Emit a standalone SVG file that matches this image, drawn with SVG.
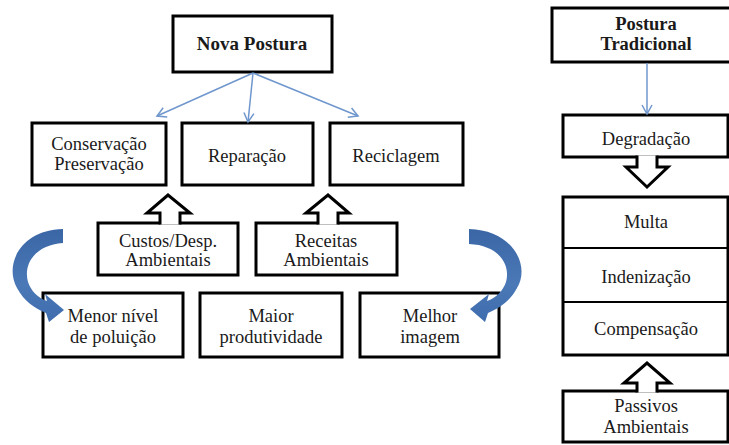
<svg xmlns="http://www.w3.org/2000/svg" width="729" height="445" viewBox="0 0 729 445">
<style>
.box{fill:#fff;stroke:#000;stroke-width:3}
.blk{fill:#fff;stroke:#000;stroke-width:3;stroke-linejoin:miter}
text{font-family:'Liberation Serif','Times New Roman',serif;font-size:18.5px;fill:#1a1a1a;text-anchor:middle}
.b{font-weight:bold}
.con{stroke:#6F97CD;stroke-width:1.5;fill:none}
</style>
<defs>
<marker id="v" markerWidth="12" markerHeight="12" refX="10" refY="6" orient="auto" markerUnits="userSpaceOnUse">
<path d="M1 1 L10 6 L1 11" fill="none" stroke="#6F97CD" stroke-width="1.5"/>
</marker>
<linearGradient id="g" x1="0" y1="0" x2="0" y2="1">
<stop offset="0" stop-color="#3A66A6"/>
<stop offset="0.6" stop-color="#4B78B6"/>
<stop offset="1" stop-color="#3E6CAD"/>
</linearGradient>
</defs>
<g id="nova"><rect class="box" x="173" y="16" width="159" height="56"/><text class="b" x="252" y="50" style="font-size:19px">Nova Postura</text></g>
<g id="conservacao"><rect class="box" x="32" y="123" width="134" height="62"/><text x="99" y="150">Conservação</text><text x="99" y="170">Preservação</text></g>
<g id="reparacao"><rect class="box" x="182" y="123" width="131" height="62"/><text x="247" y="162">Reparação</text></g>
<g id="reciclagem"><rect class="box" x="330" y="123" width="133" height="62"/><text x="396" y="162">Reciclagem</text></g>
<g id="custos"><rect class="box" x="98" y="223" width="140" height="52"/><text x="168" y="247">Custos/Desp.</text><text x="168" y="266">Ambientais</text></g>
<g id="receitas"><rect class="box" x="256" y="223" width="141" height="52"/><text x="326" y="247">Receitas</text><text x="326" y="266">Ambientais</text></g>
<g id="menor"><rect class="box" x="43" y="293" width="140" height="64"/><text x="113" y="322">Menor  nível</text><text x="113" y="343">de poluição</text></g>
<g id="maior"><rect class="box" x="200" y="293" width="142" height="64"/><text x="271" y="322">Maior</text><text x="271" y="343">produtividade</text></g>
<g id="melhor"><rect class="box" x="360" y="293" width="139" height="64"/><text x="430" y="322">Melhor</text><text x="430" y="343">imagem</text></g>

<g id="tradicional"><rect class="box" x="552" y="8" width="182" height="54"/><text class="b" x="646" y="30">Postura</text><text class="b" x="646" y="50">Tradicional</text></g>
<g id="degradacao"><rect class="box" x="563" y="115" width="165" height="42"/><text x="646" y="145">Degradação</text></g>
<g id="sancoes"><rect class="box" x="563" y="197" width="165" height="158"/><line x1="563" y1="248" x2="728" y2="248" stroke="#000" stroke-width="2"/><line x1="563" y1="302" x2="728" y2="302" stroke="#000" stroke-width="2"/><text x="646" y="228">Multa</text><text x="646" y="283">Indenização</text><text x="646" y="335">Compensação</text></g>
<g id="passivos"><rect class="box" x="563" y="391" width="165" height="51"/><text x="646" y="412">Passivos</text><text x="646" y="433">Ambientais</text></g>

<g id="connectors">
<line class="con" x1="253" y1="73" x2="157" y2="116" marker-end="url(#v)"/>
<line class="con" x1="253" y1="73" x2="248" y2="122" marker-end="url(#v)"/>
<line class="con" x1="253" y1="73" x2="358" y2="116" marker-end="url(#v)"/>
<line class="con" x1="647" y1="63" x2="647" y2="114" marker-end="url(#v)"/>
<path class="blk" d="M160 224.5 L160 213 L147 213 L168 195 L190 213 L180 213 L180 224.5"/>
<path class="blk" d="M318 224.5 L318 213 L306 213 L328 195 L349 213 L338 213 L338 224.5"/>
<path class="blk" d="M637 155.5 L637 167 L626 167 L647 187 L668 167 L657 167 L657 155.5"/>
<path class="blk" d="M637 392.5 L637 383 L624 383 L647 363 L670 383 L657 383 L657 392.5"/>
<path fill="url(#g)" d="M63 229 C20 230 4 265 17 288 C24 301 34 308 46 313 L49 322 L64 310 L45 294 L47 301 C38 298 31 291 28 282 C23 264 35 245 63 243 Z"/>
<path fill="url(#g)" d="M469 229 C512 230 531 265 517 288 C510 301 500 308 488 313 L485 322 L470 309 L489 294 L487 301 C496 298 503 291 506 282 C511 264 498 245 469 244 Z"/>
</g>
</svg>
